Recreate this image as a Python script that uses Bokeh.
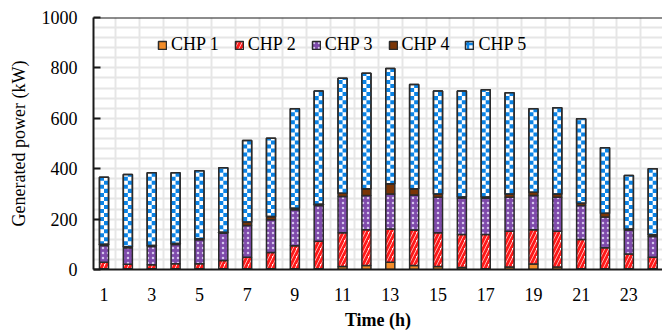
from bokeh.plotting import figure
from bokeh.models import ColumnDataSource, Range1d, FixedTicker, Span
from bokeh.transform import stack
from bokeh.embed import file_html
from bokeh.resources import INLINE

# ---------------- data ----------------
hours = list(range(1, 25))
chp1 = [3, 3, 3, 3, 3, 3, 3, 3, 3, 3, 12, 16, 29, 16, 12, 8, 3, 10, 22, 10, 3, 3, 3, 3]
chp2 = [26, 18, 16, 20, 20, 33, 46, 64, 91, 109, 134, 142, 132, 141, 134, 131, 136, 142, 136, 142, 116, 83, 59, 46]
chp3 = [66, 65, 72, 76, 95, 108, 126, 130, 143, 142, 144, 136, 139, 139, 141, 144, 144, 135, 136, 135, 135, 122, 95, 82]
chp4 = [5, 4, 4, 4, 4, 4, 13, 13, 6, 5, 13, 26, 40, 24, 13, 5, 5, 13, 13, 13, 9, 15, 4, 7]
chp5 = [266, 287, 289, 281, 270, 256, 324, 311, 395, 449, 456, 459, 458, 414, 408, 420, 425, 401, 331, 342, 335, 260, 212, 262]
series_names = ["CHP 1", "CHP 2", "CHP 3", "CHP 4", "CHP 5"]
x_tick_labels = [1, 3, 5, 7, 9, 11, 13, 15, 17, 19, 21, 23]
y_tick_labels = [0, 200, 400, 600, 800, 1000]
y_grid_values = list(range(0, 1001, 40))
x_grid_values = [h + 0.5 for h in range(0, 25)]

BAR_W = 0.38
CELL = 16.0  # checker cell height in kW (pattern of the CHP 5 fill)

# ---------------- figure ----------------
source = ColumnDataSource(data=dict(x=hours, **{n: v for n, v in zip(series_names, [chp1, chp2, chp3, chp4, chp5])}))

p = figure(width=662, height=333, output_backend="svg", toolbar_location=None,
           x_range=Range1d(0.56, 24.41), y_range=Range1d(0, 1000),
           min_border_left=93, min_border_right=0, min_border_top=17, min_border_bottom=64)
p.outline_line_color = None
p.background_fill_color = "white"

OUT = "#2b2b2b"
BLUE = "#0B83E5"
styles = [
    dict(fill_color="#F28C28"),
    dict(fill_color="white", hatch_pattern="/", hatch_color="#FF1A1A", hatch_scale=8, hatch_weight=3),
    dict(fill_color="#7E4AAA", hatch_pattern=".", hatch_color="#D6C6EC", hatch_scale=5, hatch_weight=1.2),
    dict(fill_color="#7A3506"),
    dict(fill_color="white"),
]

for i, name in enumerate(series_names):
    kw = dict(legend_label=name) if i < 4 else {}
    p.vbar(x="x", width=BAR_W, bottom=stack(*series_names[:i]), top=stack(*series_names[:i + 1]),
           source=source, line_color=OUT, line_width=1.5, **kw, **styles[i])

# checker fill of the CHP 5 segments, derived from the series values
ql, qr, qb, qt = [], [], [], []
for h, a, b, c, d, e in zip(hours, chp1, chp2, chp3, chp4, chp5):
    lo = a + b + c + d
    hi = lo + e
    k = int(lo // CELL)
    while k * CELL < hi:
        y0 = max(lo, k * CELL)
        y1 = min(hi, (k + 1) * CELL)
        col = k % 2
        left = h - BAR_W / 2 + col * BAR_W / 2
        ql.append(left)
        qr.append(left + BAR_W / 2)
        qb.append(y0)
        qt.append(y1)
        k += 1
p.quad(left=ql, right=qr, bottom=qb, top=qt, fill_color=BLUE, line_color=None)
# outline of the CHP 5 segments on top of the checker
p.vbar(x="x", width=BAR_W, bottom=stack(*series_names[:4]), top=stack(*series_names),
       source=source, fill_color=None, line_color=OUT, line_width=1.5)
# legend swatch for CHP 5 (hidden in the plot, only drawn in the legend)
sw = p.vbar(x="x", width=BAR_W, bottom=stack(*series_names[:4]), top=stack(*series_names),
            source=source, fill_color="white", hatch_pattern="+", hatch_color=BLUE,
            hatch_scale=6, hatch_weight=2.5, line_color=OUT, line_width=1.5, legend_label="CHP 5")
sw.visible = False

# grids
p.xgrid.ticker = FixedTicker(ticks=x_grid_values)
p.ygrid.ticker = FixedTicker(ticks=y_grid_values)
for g in (p.xgrid[0], p.ygrid[0]):
    g.grid_line_color = "#e6e6e6"
    g.grid_line_width = 2

# axes
p.xaxis.ticker = FixedTicker(ticks=x_tick_labels)
p.yaxis.ticker = FixedTicker(ticks=y_tick_labels)
for ax in (p.xaxis[0], p.yaxis[0]):
    ax.axis_line_color = "#1a1a1a"
    ax.axis_line_width = 2
    ax.minor_tick_line_color = None
    ax.major_label_text_font = "Liberation Serif"
    ax.major_label_text_font_size = "18px"
    ax.major_label_text_color = "black"
    ax.axis_label_text_font = "Liberation Serif"
    ax.axis_label_text_font_size = "18px"
    ax.axis_label_text_color = "black"

p.xaxis.major_tick_line_color = None
p.xaxis.major_label_standoff = 12
p.xaxis.axis_label = "Time (h)"
p.xaxis.axis_label_text_font_style = "bold"
p.xaxis.axis_label_standoff = 6

p.yaxis.major_tick_in = 7
p.yaxis.major_tick_out = 0
p.yaxis.major_tick_line_width = 2
p.yaxis.major_tick_line_color = "#1a1a1a"
p.yaxis.major_label_standoff = 16
p.yaxis.axis_label = "Generated power (kW)"
p.yaxis.axis_label_text_font_style = "normal"
p.yaxis.axis_label_standoff = 10

p.add_layout(Span(location=1000, dimension="width", line_color="#1a1a1a", line_width=2))

# legend
lg = p.legend[0]
lg.orientation = "horizontal"
lg.location = (64, 214)
lg.glyph_width = 10
lg.glyph_height = 10
lg.label_standoff = 4
lg.spacing = 15
lg.padding = 0
lg.margin = 0
lg.border_line_color = None
lg.background_fill_alpha = 0
lg.inactive_fill_alpha = 0
lg.label_text_font = "Liberation Serif"
lg.label_text_font_size = "18px"
lg.label_text_color = "black"
lg.label_height = 20

open("out.html", "w").write(file_html(p, INLINE))
